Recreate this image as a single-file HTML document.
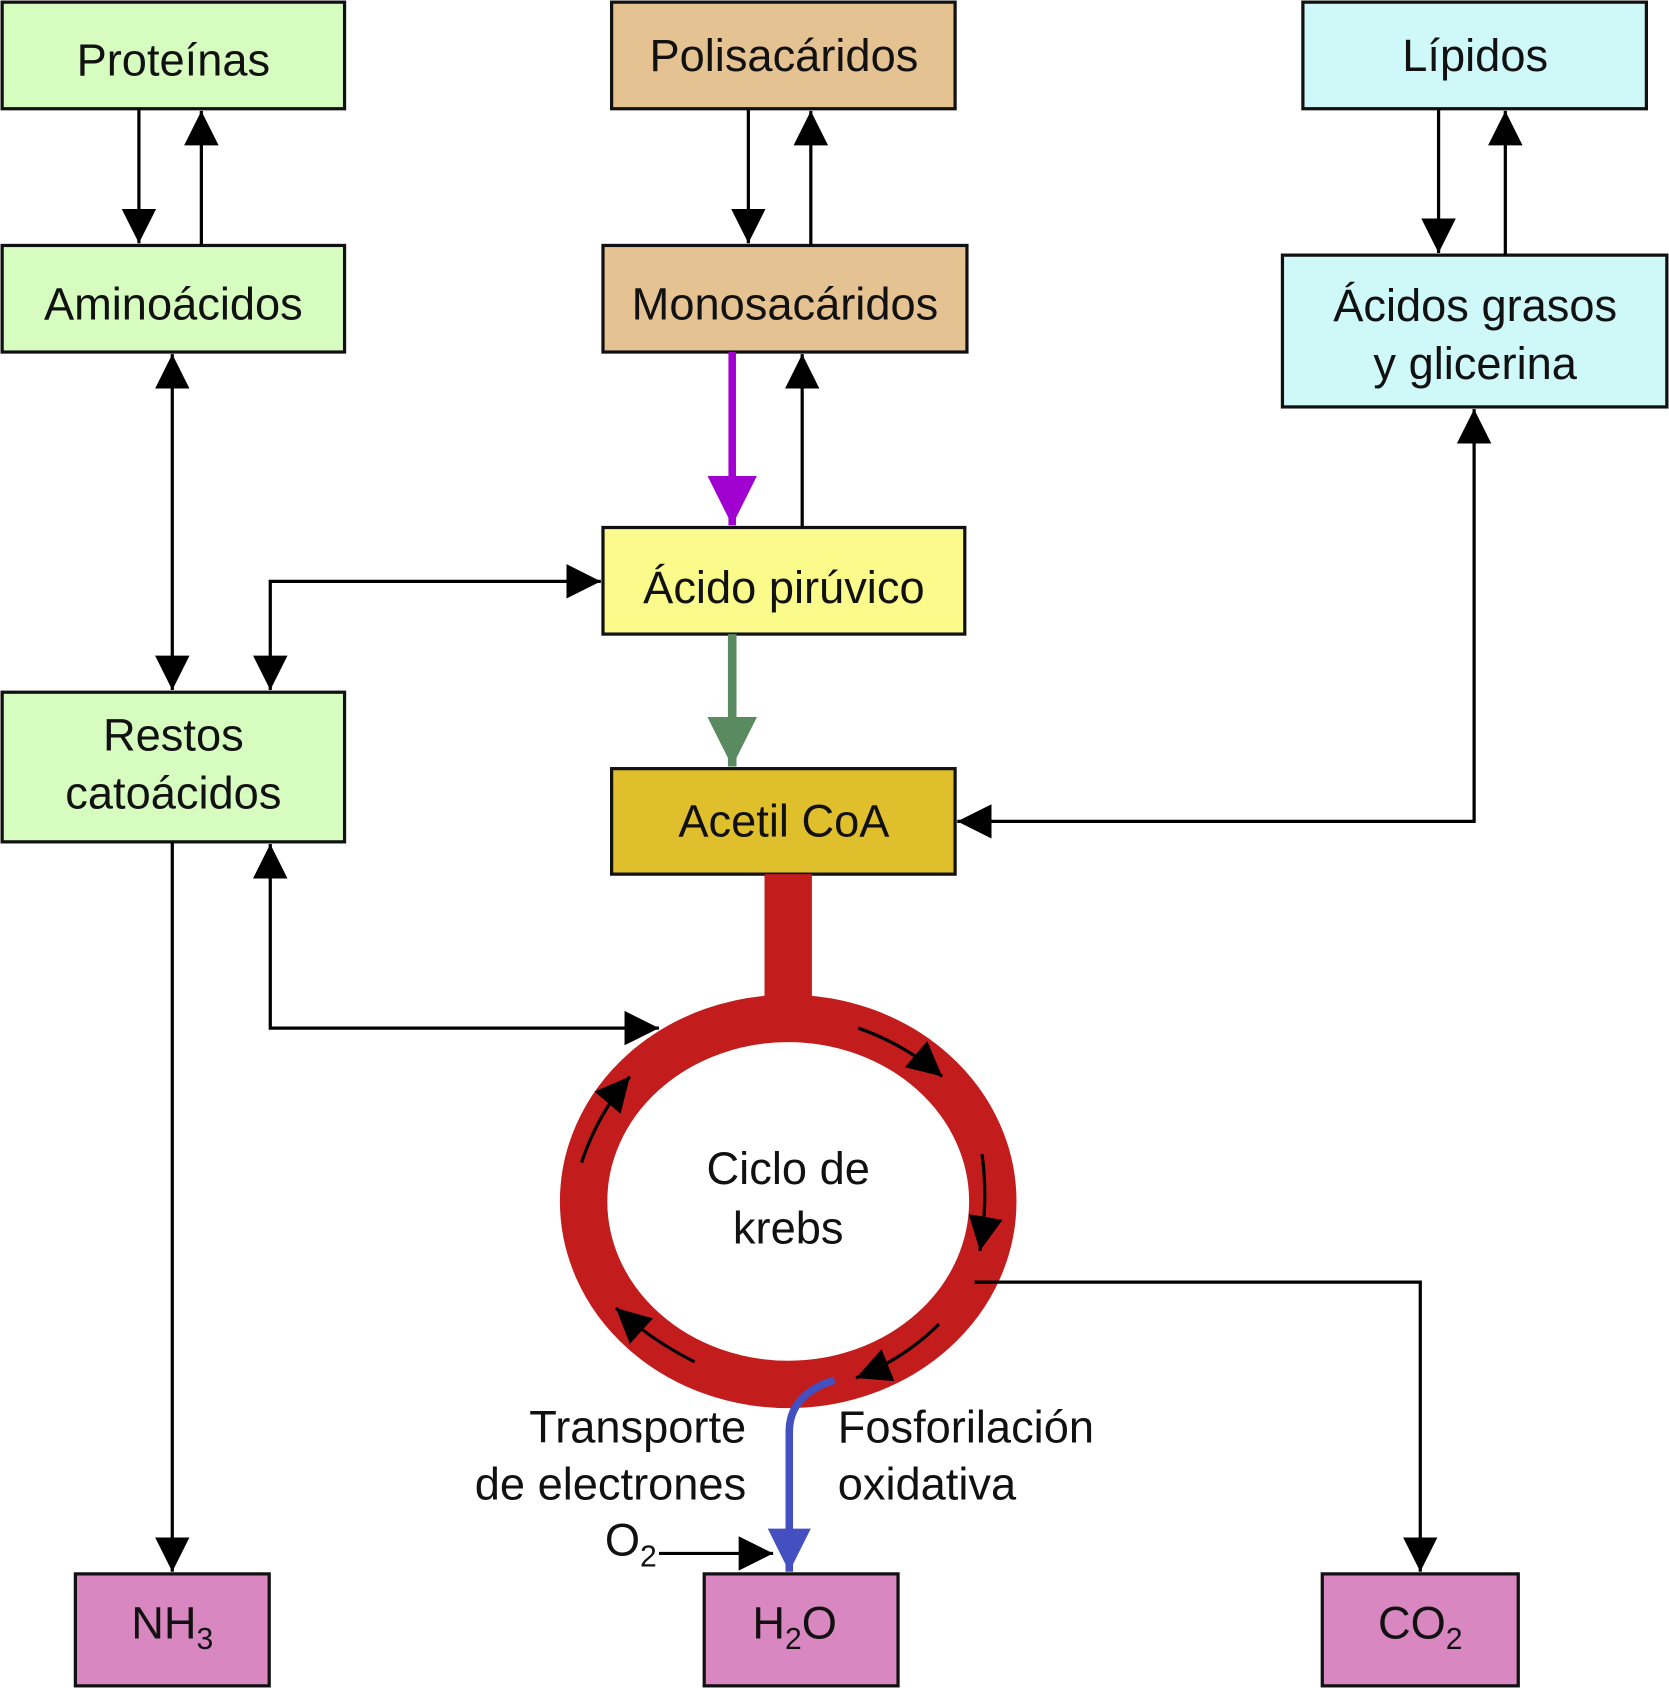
<!DOCTYPE html>
<html><head><meta charset="utf-8"><style>
html,body{margin:0;padding:0;background:#fff}
svg{display:block}
text{font-family:"Liberation Sans",Arial,sans-serif;font-size:42px;fill:#111}
</style></head><body>
<svg width="1669" height="1688" viewBox="0 0 1550 1568" preserveAspectRatio="none" xmlns="http://www.w3.org/2000/svg">
<defs>
<marker id="ab" viewBox="0 0 10 10" refX="10" refY="5" markerWidth="32" markerHeight="32" markerUnits="userSpaceOnUse" orient="auto-start-reverse"><path d="M0,0 L10,5 L0,10z" fill="#000"/></marker>
<marker id="ap" viewBox="0 0 10 10" refX="10" refY="5" markerWidth="46" markerHeight="46" markerUnits="userSpaceOnUse" orient="auto"><path d="M0,0 L10,5 L0,10z" fill="#a000d0"/></marker>
<marker id="ag" viewBox="0 0 10 10" refX="10" refY="5" markerWidth="46" markerHeight="46" markerUnits="userSpaceOnUse" orient="auto"><path d="M0,0 L10,5 L0,10z" fill="#5a8a60"/></marker>
<marker id="abl" viewBox="0 0 10 10" refX="10" refY="5" markerWidth="40" markerHeight="40" markerUnits="userSpaceOnUse" orient="auto"><path d="M0,0 L10,5 L0,10z" fill="#4450c0"/></marker>
</defs>
<g stroke="#111" stroke-width="3">
<rect x="2" y="2" width="318" height="99" fill="#d7fcc0"/>
<rect x="568" y="2" width="319" height="99" fill="#e5c292"/>
<rect x="1210" y="2" width="319" height="99" fill="#cff8f8"/>
<rect x="2" y="228" width="318" height="99" fill="#d7fcc0"/>
<rect x="560" y="228" width="338" height="99" fill="#e5c292"/>
<rect x="1191" y="237" width="357" height="141" fill="#cff8f8"/>
<rect x="560" y="490" width="336" height="99" fill="#fbfb8c"/>
<rect x="2" y="643" width="318" height="139" fill="#d7fcc0"/>
<rect x="568" y="714" width="319" height="98" fill="#e0bf2c"/>
<rect x="70" y="1462" width="180" height="104" fill="#d987c0"/>
<rect x="654" y="1462" width="180" height="104" fill="#d987c0"/>
<rect x="1228" y="1462" width="182" height="104" fill="#d987c0"/>
</g>
<g stroke="#000" stroke-width="3" fill="none">
<line x1="129" y1="101" x2="129" y2="226" marker-end="url(#ab)"/>
<line x1="187" y1="228" x2="187" y2="103" marker-end="url(#ab)"/>
<line x1="695" y1="101" x2="695" y2="226" marker-end="url(#ab)"/>
<line x1="753" y1="228" x2="753" y2="103" marker-end="url(#ab)"/>
<line x1="1336" y1="101" x2="1336" y2="235" marker-end="url(#ab)"/>
<line x1="1398" y1="237" x2="1398" y2="103" marker-end="url(#ab)"/>
<line x1="745" y1="490" x2="745" y2="329" marker-end="url(#ab)"/>
<line x1="160" y1="329" x2="160" y2="641" marker-start="url(#ab)" marker-end="url(#ab)"/>
<path d="M558,540 H251 V641" marker-start="url(#ab)" marker-end="url(#ab)"/>
<path d="M1369,380 V763 H889" marker-start="url(#ab)" marker-end="url(#ab)"/>
<path d="M251,784 V955 H612" marker-start="url(#ab)" marker-end="url(#ab)"/>
<line x1="160" y1="782" x2="160" y2="1460" marker-end="url(#ab)"/>
<line x1="612" y1="1443" x2="718" y2="1443" marker-end="url(#ab)"/>
</g>
<line x1="680" y1="327" x2="680" y2="488" stroke="#a000d0" stroke-width="7" marker-end="url(#ap)"/>
<line x1="680" y1="589" x2="680" y2="712" stroke="#5a8a60" stroke-width="8" marker-end="url(#ag)"/>
<rect x="710" y="812" width="44" height="125" fill="#c21c1c"/>
<ellipse cx="732" cy="1116" rx="190" ry="170" fill="none" stroke="#c21c1c" stroke-width="44"/>
<g stroke="#000" stroke-width="3" fill="none">
<path d="M905,1191 H1319 V1460" marker-end="url(#ab)"/>
<path d="M797,955 Q840,970 875,1000" marker-end="url(#ab)"/>
<path d="M912,1072 Q918,1115 910,1162" marker-end="url(#ab)"/>
<path d="M872,1230 Q840,1262 795,1280" marker-end="url(#ab)"/>
<path d="M645,1265 Q605,1245 572,1215" marker-end="url(#ab)"/>
<path d="M540,1080 Q555,1035 585,1000" marker-end="url(#ab)"/>
</g>
<path d="M775,1282 Q733,1295 733,1330 V1460" fill="none" stroke="#4450c0" stroke-width="7" marker-end="url(#abl)"/>
<g text-anchor="middle">
<text x="161" y="70">Proteínas</text>
<text x="728" y="66">Polisacáridos</text>
<text x="1370" y="66">Lípidos</text>
<text x="161" y="297">Aminoácidos</text>
<text x="729" y="297">Monosacáridos</text>
<text x="1370" y="298">Ácidos grasos</text>
<text x="1370" y="352">y glicerina</text>
<text x="728" y="560">Ácido pirúvico</text>
<text x="161" y="697">Restos</text>
<text x="161" y="751">catoácidos</text>
<text x="728" y="777">Acetil CoA</text>
<text x="732" y="1100">Ciclo de</text>
<text x="732" y="1155">krebs</text>
<text x="160" y="1522">NH<tspan font-size="28" dy="10">3</tspan></text>
<text x="738" y="1522">H<tspan font-size="28" dy="10">2</tspan><tspan dy="-10">O</tspan></text>
<text x="1319" y="1522">CO<tspan font-size="28" dy="10">2</tspan></text>
</g>
<g text-anchor="end">
<text x="693" y="1340">Transporte</text>
<text x="693" y="1393">de electrones</text>
<text x="610" y="1445">O<tspan font-size="28" dy="10">2</tspan></text>
</g>
<text x="778" y="1340">Fosforilación</text>
<text x="778" y="1393">oxidativa</text>
</svg>
</body></html>
